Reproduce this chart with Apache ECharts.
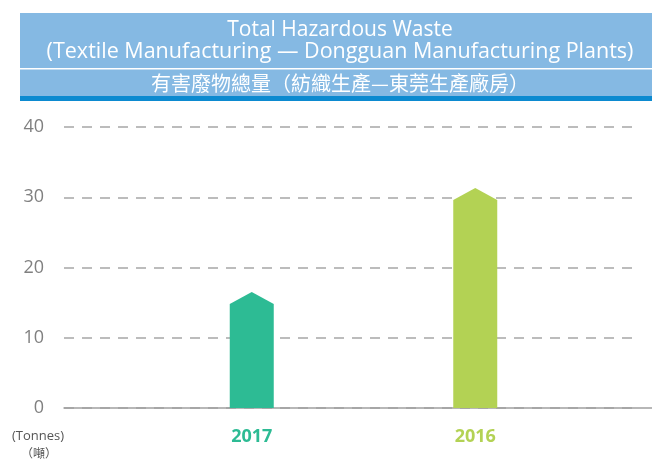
<!DOCTYPE html>
<html>
<head>
<meta charset="utf-8">
<script src="https://cdn.jsdelivr.net/npm/echarts@6/dist/echarts.min.js"></script>
<style>
  html, body { margin: 0; padding: 0; background: #fff; }
  #chart { width: 652px; height: 461px; }
</style>
</head>
<body>
<div id="chart"></div>
<script>
var years = ["2017", "2016"];
var waste = [14.8, 29.6];
var barColors = ["#2dbb94", "#b3d254"];
var yTicks = [0, 10, 20, 30, 40];

var chart = echarts.init(document.getElementById("chart"));
var font = "'Open Sans', 'Noto Sans', sans-serif";
var cjk = "'Noto Sans CJK TC', 'Noto Sans', sans-serif";

var option = {
  animation: false,
  grid: [
    { left: 64, right: 12, top: 127, bottom: 53 },
    { left: 64, right: 0, top: 127, bottom: 53 },
    { left: 140, width: 447, top: 127, bottom: 53 }
  ],
  xAxis: [
    { gridIndex: 0, type: "value", show: false },
    {
      gridIndex: 1, type: "value", min: 0, max: 1,
      axisLine: { show: true, lineStyle: { color: "#a0a0a0", width: 1.5 } },
      axisTick: { show: false }, axisLabel: { show: false }, splitLine: { show: false }
    },
    {
      gridIndex: 2, type: "category", data: years,
      axisLine: { show: false }, axisTick: { show: false },
      axisLabel: {
        margin: 20,
        fontFamily: font, fontSize: 18, fontWeight: "bold",
        color: function (v, i) { return barColors[i]; }
      }
    }
  ],
  yAxis: [
    {
      gridIndex: 0, type: "value", min: 0, max: 40, interval: 10,
      axisLine: { show: false }, axisTick: { show: false },
      axisLabel: {
        margin: 20, fontFamily: font, fontSize: 18, color: "#808080",
        formatter: function (v) { return yTicks.indexOf(v) >= 0 ? String(v) : ""; }
      },
      splitLine: { lineStyle: { color: "#a6a6a6", width: 1.5, type: [10, 8] } }
    },
    { gridIndex: 1, type: "value", min: 0, max: 40, show: false },
    { gridIndex: 2, type: "value", min: 0, max: 40, show: false }
  ],
  graphic: [
    { type: "rect", shape: { x: 20, y: 13, width: 632, height: 55 }, style: { fill: "#85b9e3" } },
    { type: "rect", shape: { x: 20, y: 69.5, width: 632, height: 27 }, style: { fill: "#85b9e3" } },
    { type: "rect", shape: { x: 20, y: 96, width: 632, height: 5 }, style: { fill: "#0c8ad0" } },
    {
      type: "text", x: 340, y: 30,
      style: { text: "Total Hazardous Waste", fill: "#fff", font: "21px " + font, align: "center", verticalAlign: "middle" }
    },
    {
      type: "text", x: 340, y: 52,
      style: { text: "(Textile Manufacturing \u2014 Dongguan Manufacturing Plants)", fill: "#fff", font: "21.5px " + font, align: "center", verticalAlign: "middle" }
    },
    {
      type: "text", x: 340, y: 83,
      style: { text: "有害廢物總量（紡織生產—東莞生產廠房）", fill: "#fff", font: "20px " + cjk, align: "center", verticalAlign: "middle" }
    },
    {
      type: "text", x: 38, y: 436,
      style: { text: "(Tonnes)", fill: "#555", font: "13px " + font, align: "center", verticalAlign: "middle" }
    },
    {
      type: "text", x: 39, y: 453,
      style: { text: "（噸）", fill: "#555", font: "12px " + cjk, align: "center", verticalAlign: "middle" }
    }
  ],
  series: [
    {
      type: "custom",
      xAxisIndex: 2, yAxisIndex: 2,
      data: waste.map(function (v, i) { return [i, v]; }),
      renderItem: function (params, api) {
        var base = api.coord([api.value(0), 0]);
        var top = api.coord([api.value(0), api.value(1)]);
        var w = 44, tip = 12;
        var x = base[0];
        return {
          type: "polygon",
          shape: {
            points: [
              [x - w / 2, base[1]],
              [x - w / 2, top[1]],
              [x, top[1] - tip],
              [x + w / 2, top[1]],
              [x + w / 2, base[1]]
            ]
          },
          style: { fill: barColors[params.dataIndex] }
        };
      },
      z: 1
    }
  ]
};

chart.setOption(option);
</script>
</body>
</html>
